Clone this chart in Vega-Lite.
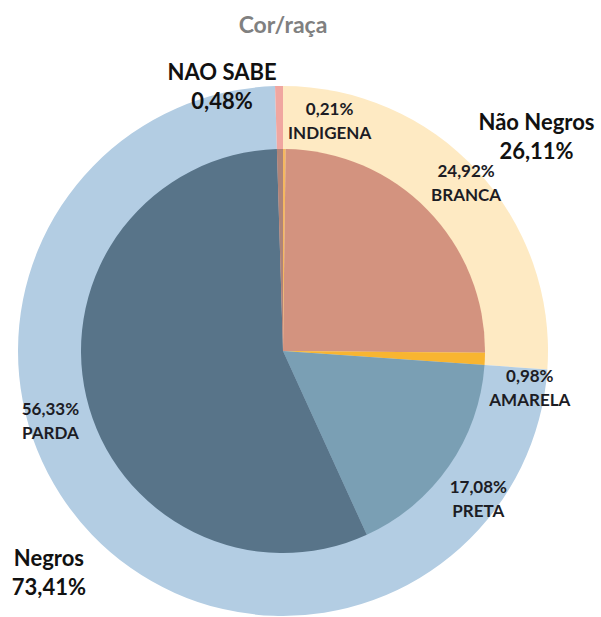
{
  "$schema": "https://vega.github.io/schema/vega-lite/v6.json",
  "width": 566,
  "height": 702,
  "autosize": {"type": "none"},
  "padding": {"left": 0, "top": 0, "right": 35, "bottom": 0},
  "background": "white",
  "config": {"view": {"stroke": null}, "text": {"font": "Lato"}},
  "title": {"text": "Cor/raça", "frame": "group", "anchor": "middle", "offset": -38, "font": "Lato", "fontSize": 23, "fontWeight": "bold", "color": "#808080"},
  "datasets": {
    "outer": [
      {"grupo": "Não Negros", "v": 0.2611},
      {"grupo": "Negros", "v": 0.7341},
      {"grupo": "NAO SABE", "v": 0.0048}
    ],
    "inner": [
      {"cor": "INDIGENA", "v": 0.0021},
      {"cor": "BRANCA", "v": 0.2492},
      {"cor": "AMARELA", "v": 0.0098},
      {"cor": "PRETA", "v": 0.1708},
      {"cor": "PARDA", "v": 0.5633},
      {"cor": "NAO SABE", "v": 0.0048}
    ]
  },
  "resolve": {"scale": {"color": "independent"}},
  "layer": [
    {
      "data": {"name": "outer"},
      "transform": [{"window": [{"op": "row_number", "as": "idx"}]}],
      "mark": {"type": "arc", "outerRadius": 265, "innerRadius": 0},
      "encoding": {
        "theta": {"field": "v", "type": "quantitative", "stack": true},
        "order": {"field": "idx", "type": "quantitative"},
        "color": {"field": "grupo", "type": "nominal", "legend": null,
          "scale": {"domain": ["Não Negros", "Negros", "NAO SABE"], "range": ["#FEEAC3", "#B3CDE3", "#F0A6A0"]}}
      }
    },
    {
      "data": {"name": "inner"},
      "transform": [{"window": [{"op": "row_number", "as": "idx"}]}],
      "mark": {"type": "arc", "outerRadius": 202, "innerRadius": 0},
      "encoding": {
        "theta": {"field": "v", "type": "quantitative", "stack": true},
        "order": {"field": "idx", "type": "quantitative"},
        "color": {"field": "cor", "type": "nominal", "legend": null,
          "scale": {"domain": ["INDIGENA", "BRANCA", "AMARELA", "PRETA", "PARDA", "NAO SABE"], "range": ["#F5B860", "#D3937F", "#F8B531", "#7A9FB4", "#587489", "#B08478"]}}
      }
    },
    {
      "data": {"name": "inner"},
      "transform": [{"window": [{"op": "row_number", "as": "idx"}]}, {"calculate": "replace(format(datum.v,'.2%'),'.',',') + '\\n' + datum.cor", "as": "lbl"}],
      "mark": {"type": "text", "radius": 245, "dx": 45, "dy": 4, "fontSize": 17, "fontWeight": "bold", "lineBreak": "\n", "lineHeight": 24, "color": "#1c1c24", "align": "center", "baseline": "middle"},
      "encoding": {
        "theta": {"field": "v", "type": "quantitative", "stack": true},
        "order": {"field": "idx", "type": "quantitative"},
        "detail": {"field": "cor", "type": "nominal"},
        "text": {"condition": {"test": "datum.cor === 'INDIGENA'", "field": "lbl", "type": "nominal"}, "value": ""}
      }
    },
    {
      "data": {"name": "inner"},
      "transform": [{"window": [{"op": "row_number", "as": "idx"}]}, {"calculate": "replace(format(datum.v,'.2%'),'.',',') + '\\n' + datum.cor", "as": "lbl"}],
      "mark": {"type": "text", "radius": 245, "dx": 8, "dy": -8, "fontSize": 17, "fontWeight": "bold", "lineBreak": "\n", "lineHeight": 24, "color": "#1c1c24", "align": "center", "baseline": "middle"},
      "encoding": {
        "theta": {"field": "v", "type": "quantitative", "stack": true},
        "order": {"field": "idx", "type": "quantitative"},
        "detail": {"field": "cor", "type": "nominal"},
        "text": {"condition": {"test": "datum.cor === 'BRANCA'", "field": "lbl", "type": "nominal"}, "value": ""}
      }
    },
    {
      "data": {"name": "inner"},
      "transform": [{"window": [{"op": "row_number", "as": "idx"}]}, {"calculate": "replace(format(datum.v,'.2%'),'.',',') + '\\n' + datum.cor", "as": "lbl"}],
      "mark": {"type": "text", "radius": 245, "dx": 2, "dy": 16, "fontSize": 17, "fontWeight": "bold", "lineBreak": "\n", "lineHeight": 24, "color": "#1c1c24", "align": "center", "baseline": "middle"},
      "encoding": {
        "theta": {"field": "v", "type": "quantitative", "stack": true},
        "order": {"field": "idx", "type": "quantitative"},
        "detail": {"field": "cor", "type": "nominal"},
        "text": {"condition": {"test": "datum.cor === 'AMARELA'", "field": "lbl", "type": "nominal"}, "value": ""}
      }
    },
    {
      "data": {"name": "inner"},
      "transform": [{"window": [{"op": "row_number", "as": "idx"}]}, {"calculate": "replace(format(datum.v,'.2%'),'.',',') + '\\n' + datum.cor", "as": "lbl"}],
      "mark": {"type": "text", "radius": 245, "dx": -6, "dy": -3, "fontSize": 17, "fontWeight": "bold", "lineBreak": "\n", "lineHeight": 24, "color": "#1c1c24", "align": "center", "baseline": "middle"},
      "encoding": {
        "theta": {"field": "v", "type": "quantitative", "stack": true},
        "order": {"field": "idx", "type": "quantitative"},
        "detail": {"field": "cor", "type": "nominal"},
        "text": {"condition": {"test": "datum.cor === 'PRETA'", "field": "lbl", "type": "nominal"}, "value": ""}
      }
    },
    {
      "data": {"name": "inner"},
      "transform": [{"window": [{"op": "row_number", "as": "idx"}]}, {"calculate": "replace(format(datum.v,'.2%'),'.',',') + '\\n' + datum.cor", "as": "lbl"}],
      "mark": {"type": "text", "radius": 245, "dx": 6, "dy": 3, "fontSize": 17, "fontWeight": "bold", "lineBreak": "\n", "lineHeight": 24, "color": "#1c1c24", "align": "center", "baseline": "middle"},
      "encoding": {
        "theta": {"field": "v", "type": "quantitative", "stack": true},
        "order": {"field": "idx", "type": "quantitative"},
        "detail": {"field": "cor", "type": "nominal"},
        "text": {"condition": {"test": "datum.cor === 'PARDA'", "field": "lbl", "type": "nominal"}, "value": ""}
      }
    },
    {
      "data": {"name": "outer"},
      "transform": [{"window": [{"op": "row_number", "as": "idx"}]}, {"calculate": "datum.grupo + '\\n' + replace(format(datum.v,'.2%'),'.',',')", "as": "lbl"}],
      "mark": {"type": "text", "radius": 322, "dx": 18, "dy": -8, "fontSize": 22, "fontWeight": "bold", "lineBreak": "\n", "lineHeight": 29, "color": "#111111", "align": "center", "baseline": "middle"},
      "encoding": {
        "theta": {"field": "v", "type": "quantitative", "stack": true},
        "order": {"field": "idx", "type": "quantitative"},
        "detail": {"field": "grupo", "type": "nominal"},
        "text": {"condition": {"test": "datum.grupo === 'Não Negros'", "field": "lbl", "type": "nominal"}, "value": ""}
      }
    },
    {
      "data": {"name": "outer"},
      "transform": [{"window": [{"op": "row_number", "as": "idx"}]}, {"calculate": "datum.grupo + '\\n' + replace(format(datum.v,'.2%'),'.',',')", "as": "lbl"}],
      "mark": {"type": "text", "radius": 322, "dx": -2, "dy": -15, "fontSize": 22, "fontWeight": "bold", "lineBreak": "\n", "lineHeight": 29, "color": "#111111", "align": "center", "baseline": "middle"},
      "encoding": {
        "theta": {"field": "v", "type": "quantitative", "stack": true},
        "order": {"field": "idx", "type": "quantitative"},
        "detail": {"field": "grupo", "type": "nominal"},
        "text": {"condition": {"test": "datum.grupo === 'Negros'", "field": "lbl", "type": "nominal"}, "value": ""}
      }
    },
    {
      "data": {"name": "outer"},
      "transform": [{"window": [{"op": "row_number", "as": "idx"}]}, {"calculate": "datum.grupo + '\\n' + replace(format(datum.v,'.2%'),'.',',')", "as": "lbl"}],
      "mark": {"type": "text", "radius": 264, "dx": -57, "dy": -14, "fontSize": 22, "fontWeight": "bold", "lineBreak": "\n", "lineHeight": 29, "color": "#111111", "align": "center", "baseline": "middle"},
      "encoding": {
        "theta": {"field": "v", "type": "quantitative", "stack": true},
        "order": {"field": "idx", "type": "quantitative"},
        "detail": {"field": "grupo", "type": "nominal"},
        "text": {"condition": {"test": "datum.grupo === 'NAO SABE'", "field": "lbl", "type": "nominal"}, "value": ""}
      }
    }
  ]
}
